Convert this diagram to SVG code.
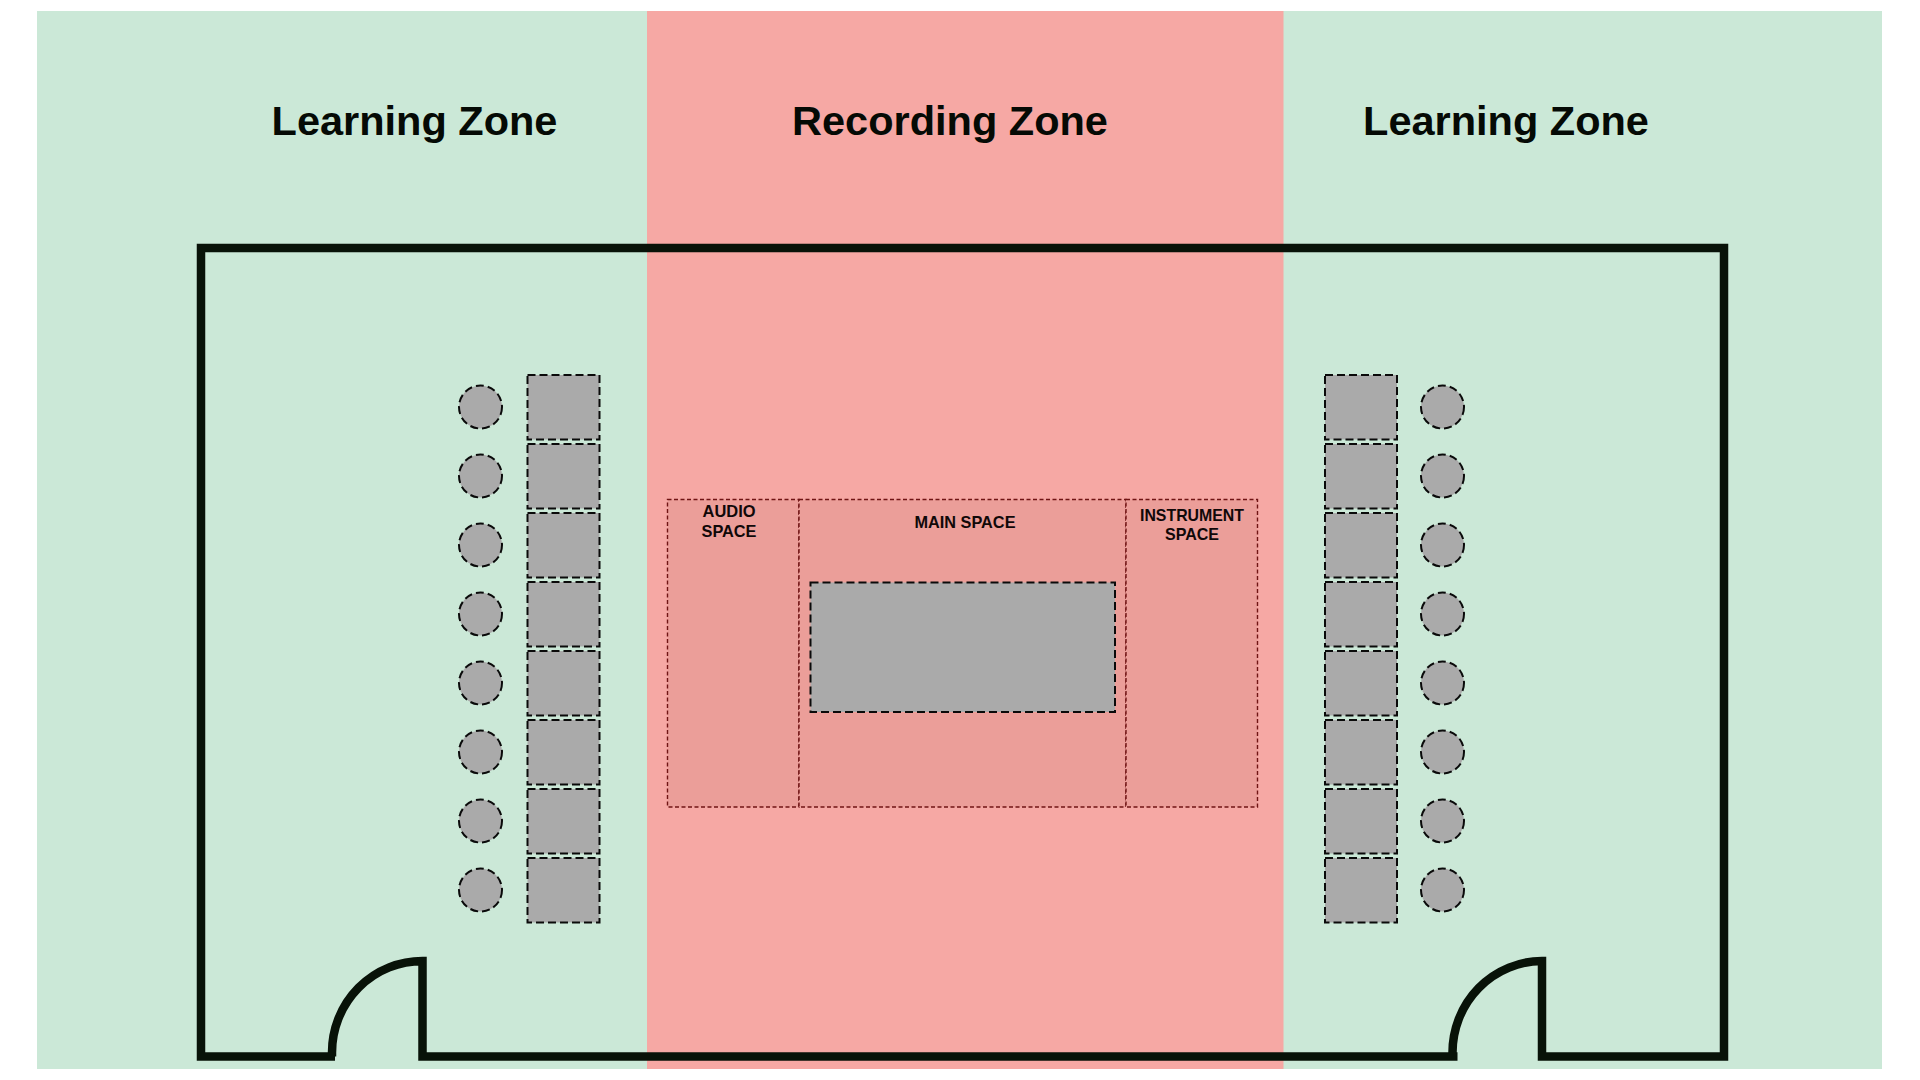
<svg xmlns="http://www.w3.org/2000/svg" xmlns:xlink="http://www.w3.org/1999/xlink" width="1920" height="1080" viewBox="0 0 1920 1080">
<style>
.zone{font-family:"Liberation Sans",Arial,sans-serif;font-weight:700;font-size:41.5px;fill:#050a05;text-anchor:middle}
.lab{font-family:"Liberation Sans",Arial,sans-serif;font-weight:700;font-size:17px;fill:#100808;text-anchor:middle}
.g{fill:#cbe8d7}.r{fill:#f6a8a4}
.sp{fill:#eb9e99;stroke:#701414;stroke-width:1.4;stroke-dasharray:4 2.5}
.it{fill:#aaaaaa;stroke:#0a0a0a;stroke-width:2;stroke-dasharray:8 4}
.wall{fill:none;stroke:#081208;stroke-width:8.5;stroke-linejoin:miter}
</style>
<defs>
<rect id="desk" width="72" height="64.5" class="it"/>
<circle id="seat" r="21.5" class="it"/>
</defs>
<rect width="1920" height="1080" fill="#fff"/>
<g id="zones">
<rect class="g" x="37" y="11" width="1845" height="1058"/>
<rect class="r" x="647" y="11" width="636.5" height="1058"/>
</g>
<g id="zone-labels">
<text class="zone" x="414.5" y="135">Learning Zone</text>
<text class="zone" x="950" y="135">Recording Zone</text>
<text class="zone" x="1506" y="135">Learning Zone</text>
</g>
<g id="spaces">
<g id="audio-space"><rect class="sp" x="667.500" y="499.500" width="131.500" height="307.500"/>
<text class="lab" x="729" y="517" textLength="53" lengthAdjust="spacingAndGlyphs">AUDIO</text><text class="lab" x="729" y="537" textLength="55" lengthAdjust="spacingAndGlyphs">SPACE</text></g>
<g id="main-space"><rect class="sp" x="799" y="499.500" width="327" height="307.500"/>
<text class="lab" x="965" y="527.500" textLength="101" lengthAdjust="spacingAndGlyphs">MAIN SPACE</text></g>
<g id="instrument-space"><rect class="sp" x="1126" y="499.500" width="131.500" height="307.500"/>
<text class="lab" x="1192" y="520.500" textLength="104" lengthAdjust="spacingAndGlyphs">INSTRUMENT</text><text class="lab" x="1192" y="539.500" textLength="54" lengthAdjust="spacingAndGlyphs">SPACE</text></g>
<rect id="main-stage" class="it" x="810.500" y="582.500" width="304.500" height="129.500"/>
</g>
<g id="left-desks">
<use href="#desk" x="527.500" y="375"/><use href="#desk" x="527.500" y="444"/><use href="#desk" x="527.500" y="513"/><use href="#desk" x="527.500" y="582"/><use href="#desk" x="527.500" y="651"/><use href="#desk" x="527.500" y="720"/><use href="#desk" x="527.500" y="789"/><use href="#desk" x="527.500" y="858"/>
</g>
<g id="left-seats">
<use href="#seat" x="480.500" y="407"/><use href="#seat" x="480.500" y="476"/><use href="#seat" x="480.500" y="545"/><use href="#seat" x="480.500" y="614"/><use href="#seat" x="480.500" y="683"/><use href="#seat" x="480.500" y="752"/><use href="#seat" x="480.500" y="821"/><use href="#seat" x="480.500" y="890"/>
</g>
<g id="right-desks">
<use href="#desk" x="1325" y="375"/><use href="#desk" x="1325" y="444"/><use href="#desk" x="1325" y="513"/><use href="#desk" x="1325" y="582"/><use href="#desk" x="1325" y="651"/><use href="#desk" x="1325" y="720"/><use href="#desk" x="1325" y="789"/><use href="#desk" x="1325" y="858"/>
</g>
<g id="right-seats">
<use href="#seat" x="1442.500" y="407"/><use href="#seat" x="1442.500" y="476"/><use href="#seat" x="1442.500" y="545"/><use href="#seat" x="1442.500" y="614"/><use href="#seat" x="1442.500" y="683"/><use href="#seat" x="1442.500" y="752"/><use href="#seat" x="1442.500" y="821"/><use href="#seat" x="1442.500" y="890"/>
</g>
<g id="walls">
<path class="wall" d="M335 1056.500H201V248H1724V1056.500H1542V961A90 91.500 0 0 0 1452.500 1052.500V1056.500H1457.500M1457.500 1056.500H422.500V961A90.500 91.500 0 0 0 332 1052.500V1056.500"/>
</g>
</svg>
